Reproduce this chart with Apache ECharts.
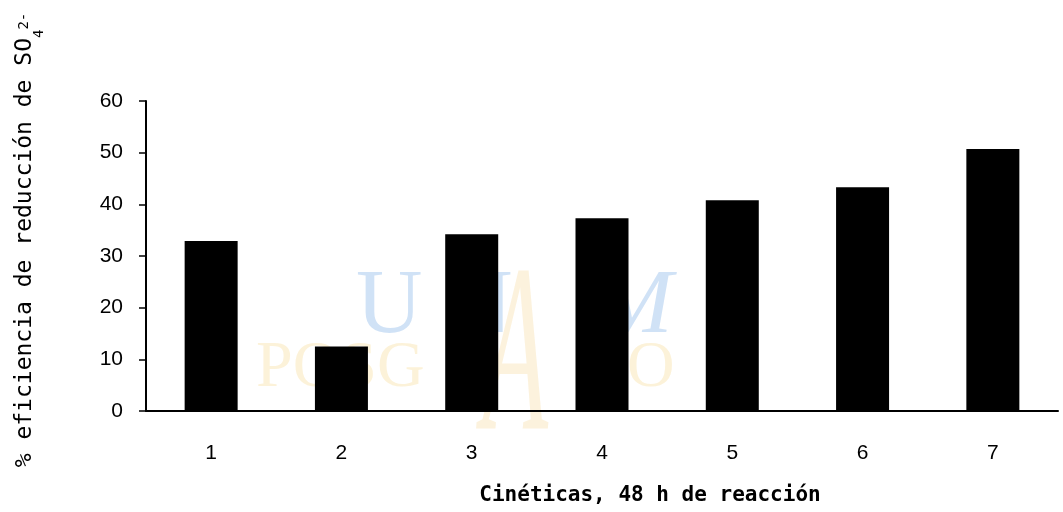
<!DOCTYPE html>
<html>
<head>
<meta charset="UTF-8">
<title>Eficiencia de reducción</title>
<script src="https://cdn.jsdelivr.net/npm/echarts@6/dist/echarts.min.js"></script>
<style>
  html, body { margin: 0; padding: 0; background: #fff; }
  #main { width: 1063px; height: 512px; }
</style>
</head>
<body>
<div id="main"></div>
<script>
// categorías (cinéticas) y % de eficiencia
var cineticas = ['1', '2', '3', '4', '5', '6', '7'];
var eficiencia = [32.9, 12.5, 34.2, 37.3, 40.8, 43.3, 50.7];
var yMin = 0, yMax = 60, yPaso = 10;

var tituloX = 'Cinéticas, 48 h de reacción';
var tituloY = '% eficiencia de reducción de SO';

var myChart = echarts.init(document.getElementById('main'));

var azul = 'rgba(150,190,235,0.45)';
var amarillo = 'rgba(245,215,140,0.33)';

var option = {
  backgroundColor: '#fff',
  animation: false,
  grid: { left: 146, right: 5, top: 101, bottom: 101 },
  xAxis: {
    type: 'category',
    data: cineticas,
    boundaryGap: true,
    axisLine: { lineStyle: { color: '#000', width: 2 } },
    axisTick: { length: 7, lineStyle: { color: '#000', width: 1.5 } },
    axisLabel: { color: '#000', fontSize: 21, fontFamily: 'Liberation Sans', margin: 32 },
    splitLine: { show: false }
  },
  yAxis: {
    type: 'value',
    min: yMin, max: yMax, interval: yPaso,
    axisLine: { show: true, lineStyle: { color: '#000', width: 2 } },
    axisTick: { show: true, length: 7, lineStyle: { color: '#000', width: 1.5 } },
    axisLabel: { color: '#000', fontSize: 21, fontFamily: 'Liberation Sans', margin: 23 },
    splitLine: { show: false }
  },
  graphic: [
    // marca de agua (tenue, detrás de las barras)
    { type: 'text', z: 0, x: 356, y: 262, style: { text: 'U', font: '92px "Liberation Serif"', fill: azul } },
    { type: 'text', z: 0, x: 446, y: 262, style: { text: 'N', font: '92px "Liberation Serif"', fill: azul } },
    { type: 'text', z: 0, x: 596, y: 262, style: { text: 'M', font: 'italic 92px "Liberation Serif"', fill: azul } },
    { type: 'text', z: 0, x: 256, y: 336, style: { text: 'POSG', font: '66px "Liberation Serif"', fill: amarillo } },
    { type: 'text', z: 0, x: 627, y: 336, style: { text: 'O', font: '66px "Liberation Serif"', fill: amarillo } },
    { type: 'text', z: 0, x: 482, y: 246, scaleX: 0.45, style: { text: 'A', font: 'italic 240px "Liberation Serif"', fill: 'rgba(245,205,120,0.25)' } },
    // título del eje Y
    {
      type: 'text', x: 28, y: 240, rotation: Math.PI / 2,
      style: {
        text: '{m|' + tituloY + '}{b|4}{t|2-}',
        align: 'center', verticalAlign: 'middle',
        rich: {
          m: { fontSize: 23, fontFamily: 'DejaVu Sans Mono', lineHeight: 28, verticalAlign: 'top', fill: '#000' },
          b: { fontSize: 14, fontFamily: 'DejaVu Sans Mono', lineHeight: 14, padding: [18, 0, 0, 0], verticalAlign: 'top', fill: '#000' },
          t: { fontSize: 14, fontFamily: 'DejaVu Sans Mono', lineHeight: 14, padding: [3, 0, 0, 0], verticalAlign: 'top', fill: '#000' }
        }
      }
    },
    // título del eje X
    {
      type: 'text', x: 650, y: 496,
      style: { text: tituloX, font: 'bold 21px "DejaVu Sans Mono"', fill: '#000', align: 'center', verticalAlign: 'middle' }
    }
  ],
  series: [{
    type: 'bar',
    data: eficiencia,
    barWidth: 53,
    itemStyle: { color: '#000' },
    z: 2
  }]
};

myChart.setOption(option);
</script>
</body>
</html>
